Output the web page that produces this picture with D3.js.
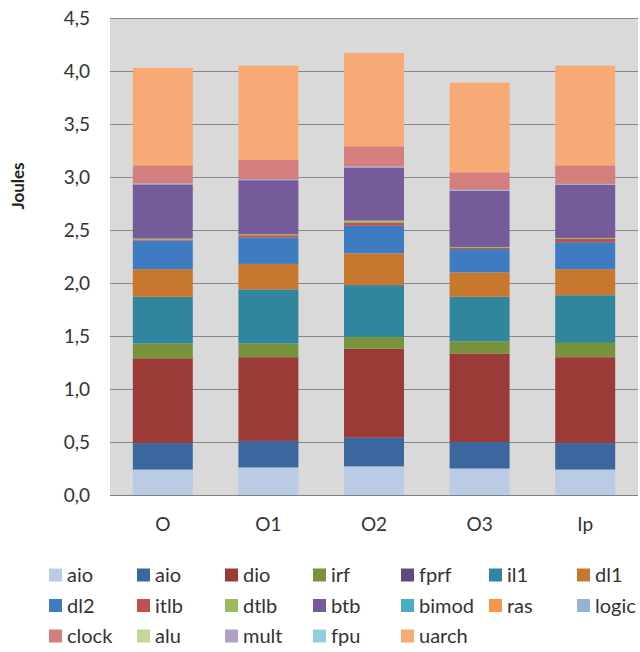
<!DOCTYPE html>
<html>
<head>
<meta charset="utf-8">
<script src="https://cdn.jsdelivr.net/npm/d3@7"></script>
<style>
  html, body { margin: 0; padding: 0; background: #ffffff; }
  svg { display: block; font-family: Lato, "Open Sans", sans-serif; }
</style>
</head>
<body>
<svg id="chart" width="640" height="652"></svg>
<script>
// Energy breakdown per compiler setting (stacked, Joules)
const categories = ["O", "O1", "O2", "O3", "Ip"];
const seriesNames = ["aio", "aio", "dio", "irf", "fprf", "il1", "dl1", "dl2", "itlb", "dtlb",
                     "btb", "bimod", "ras", "logic", "clock", "alu", "mult", "fpu", "uarch"];
const seriesColors = ["#b9cbe5", "#3c679e", "#9b3b38", "#77933c", "#5f4a7b", "#31859c", "#c8772f",
                      "#3f7bc0", "#c0504d", "#9bbb59", "#765b9a", "#4bacc6", "#f79646", "#95b3d7",
                      "#d47e7d", "#c3d69b", "#b2a1c7", "#93cddd", "#f8aa76"];

const aioA  = [0.24, 0.26, 0.27, 0.25, 0.24];
const aioB  = [0.25, 0.25, 0.27, 0.25, 0.25];
const dio   = [0.80, 0.79, 0.84, 0.835, 0.81];
const irf   = [0.14, 0.13, 0.11, 0.115, 0.135];
const fprf  = [0, 0, 0, 0, 0];
const il1   = [0.44, 0.51, 0.49, 0.42, 0.45];
const dl1   = [0.26, 0.24, 0.30, 0.23, 0.245];
const dl2   = [0.27, 0.25, 0.26, 0.22, 0.255];
const itlb  = [0.01, 0.02, 0.03, 0.01, 0.03];
const dtlb  = [0.01, 0.01, 0.02, 0.01, 0.01];
const btb   = [0.51, 0.51, 0.50, 0.53, 0.50];
const bimod = [0, 0, 0, 0, 0];
const ras   = [0, 0, 0, 0, 0];
const logic = [0.01, 0.01, 0.01, 0.01, 0.01];
const clock = [0.17, 0.18, 0.19, 0.165, 0.175];
const alu   = [0, 0, 0, 0, 0];
const mult  = [0, 0, 0, 0, 0];
const fpu   = [0, 0, 0, 0, 0];
const uarch = [0.92, 0.89, 0.88, 0.845, 0.94];

const seriesValues = [aioA, aioB, dio, irf, fprf, il1, dl1, dl2, itlb, dtlb,
                      btb, bimod, ras, logic, clock, alu, mult, fpu, uarch];
const yTicks = [0, 0.5, 1, 1.5, 2, 2.5, 3, 3.5, 4, 4.5];

// rows for d3.stack, keyed by series index (two series share the name "aio")
const keys = seriesNames.map((_, i) => i);
const rows = categories.map((c, j) => {
  const r = { cat: c };
  seriesValues.forEach((vals, i) => { r[i] = vals[j]; });
  return r;
});
const stacked = d3.stack().keys(keys)(rows);

const svg = d3.select("#chart");
const plot = { left: 110, right: 638, top: 18, bottom: 495 };
const textFont = "Lato, 'Open Sans', sans-serif";

const x = d3.scaleBand().domain(categories)
  .range([plot.left, plot.right]).paddingInner(0.432).paddingOuter(0.216);
const y = d3.scaleLinear().domain([0, 4.5]).range([plot.bottom, plot.top]);

// plot area background
svg.append("rect")
  .attr("x", plot.left).attr("y", plot.top)
  .attr("width", plot.right - plot.left).attr("height", plot.bottom - plot.top)
  .attr("fill", "#d9d9d9");

// gridlines + y labels
const yAxis = d3.axisLeft(y).tickValues(yTicks)
  .tickSize(-(plot.right - plot.left))
  .tickFormat(d => d3.format(".1f")(d).replace(".", ","))
  .tickPadding(20);
const gy = svg.append("g").attr("transform", `translate(${plot.left},0)`).call(yAxis);
gy.select(".domain").remove();
gy.selectAll(".tick line").attr("stroke", "#878787").attr("stroke-width", 1);
gy.selectAll(".tick text").attr("fill", "#333").style("font-size", "19px")
  .style("font-family", textFont);

// stacked bars
svg.append("g").selectAll("g").data(stacked).join("g")
  .attr("fill", d => seriesColors[d.key])
  .selectAll("rect").data(d => d).join("rect")
  .attr("x", d => x(d.data.cat))
  .attr("width", x.bandwidth())
  .attr("y", d => y(d[1]))
  .attr("height", d => Math.max(0, y(d[0]) - y(d[1])));

// baseline
svg.append("line")
  .attr("x1", plot.left).attr("x2", plot.right)
  .attr("y1", y(0) + 0.5).attr("y2", y(0) + 0.5)
  .attr("stroke", "#808080").attr("stroke-width", 1);

// category labels
const xAxis = d3.axisBottom(x).tickSize(0).tickPadding(23);
const gx = svg.append("g").attr("transform", `translate(0,${plot.bottom})`).call(xAxis);
gx.select(".domain").remove();
gx.selectAll(".tick text").attr("fill", "#333").style("font-size", "19px")
  .style("font-family", textFont);

// axis title
svg.append("text")
  .attr("transform", "translate(24,186) rotate(-90)")
  .attr("text-anchor", "middle")
  .attr("fill", "#222")
  .style("font-size", "17px").style("font-weight", "bold")
  .text("Joules");

// legend
const legendCols = 7, colStep = 88, rowStep = 30.5;
const legend = svg.append("g").attr("transform", "translate(49,575)");
const items = legend.selectAll("g").data(seriesNames.map((n, i) => ({ n, i }))).join("g")
  .attr("transform", d => `translate(${(d.i % legendCols) * colStep},${Math.floor(d.i / legendCols) * rowStep})`);
items.append("rect")
  .attr("x", 0).attr("y", -6.5).attr("width", 13).attr("height", 13)
  .attr("fill", d => seriesColors[d.i]);
items.append("text")
  .attr("x", 18).attr("y", 0).attr("dy", "0.35em")
  .attr("fill", "#333").style("font-size", "20px")
  .text(d => d.n);
</script>
</body>
</html>
